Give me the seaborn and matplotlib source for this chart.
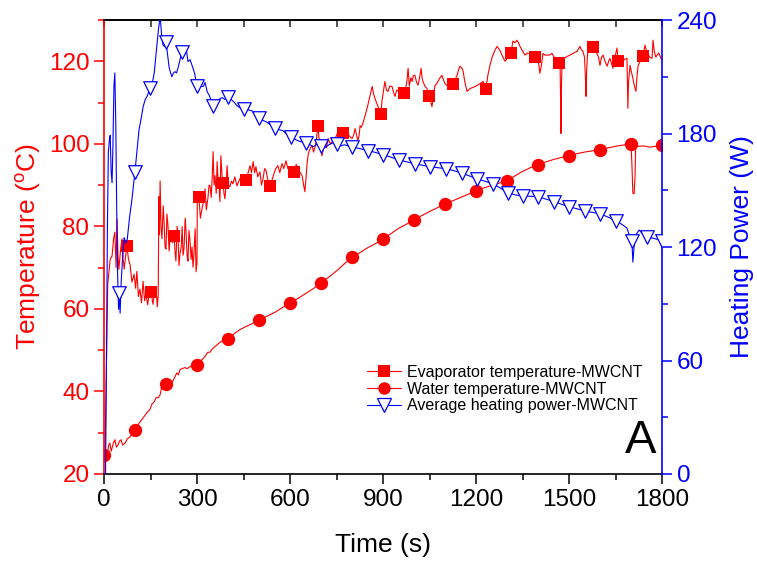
import matplotlib
matplotlib.use("Agg")
import matplotlib.pyplot as plt
import seaborn as sns
from matplotlib.lines import Line2D
from matplotlib.ticker import MultipleLocator

# ---------------- data ----------------
evap_time = [3, 12, 20, 26, 31, 35, 39, 42, 45, 48, 53, 58, 62, 65, 70, 74, 79, 84, 90, 97, 102, 106, 111, 116,
             121, 126, 131, 135, 141, 146, 152, 158, 163, 168, 172, 175, 177, 179, 181, 184, 187, 191, 194, 197,
             200, 203, 206, 210, 213, 218, 222, 226, 229, 232, 236, 239, 242, 245, 249, 252, 255, 258, 262, 265,
             268, 271, 274, 277, 281, 284, 287, 290, 294, 297, 300, 301, 306, 311, 316, 321, 326, 330, 335, 339,
             342, 346, 349, 352, 355, 358, 362, 365, 368, 371, 374, 377, 381, 384, 387, 390, 394, 397, 401, 406,
             411, 416, 422, 429, 435, 442, 450, 458, 465, 471, 476, 481, 486, 490, 496, 503, 508, 513, 518, 523,
             529, 535, 541, 548, 554, 561, 567, 574, 580, 587, 593, 600, 607, 613, 620, 626, 633, 639, 644, 648,
             652, 655, 658, 661, 666, 671, 676, 681, 685, 690, 694, 697, 700, 703, 708, 713, 718, 723, 730, 739,
             747, 755, 763, 771, 778, 784, 790, 800, 805, 810, 815, 819, 823, 826, 830, 835, 850, 865, 870, 874,
             879, 884, 889, 893, 897, 902, 906, 911, 916, 922, 929, 934, 939, 944, 948, 955, 962, 968, 972, 977,
             981, 985, 990, 994, 998, 1003, 1008, 1013, 1018, 1023, 1026, 1029, 1035, 1042, 1048, 1053, 1058,
             1063, 1068, 1073, 1077, 1084, 1090, 1095, 1100, 1108, 1116, 1121, 1126, 1132, 1139, 1144, 1148,
             1153, 1158, 1164, 1171, 1181, 1195, 1205, 1213, 1223, 1232, 1238, 1245, 1252, 1260, 1268, 1276,
             1284, 1290, 1294, 1303, 1313, 1319, 1326, 1332, 1337, 1342, 1350, 1358, 1366, 1374, 1382, 1390,
             1395, 1400, 1406, 1411, 1416, 1422, 1429, 1437, 1445, 1452, 1460, 1468, 1471, 1473, 1474, 1476,
             1478, 1481, 1490, 1503, 1515, 1526, 1535, 1540, 1545, 1550, 1553, 1555, 1557, 1561, 1568, 1577,
             1583, 1590, 1595, 1600, 1605, 1610, 1616, 1623, 1628, 1632, 1637, 1642, 1648, 1655, 1658, 1665,
             1674, 1680, 1687, 1689, 1690, 1692, 1697, 1701, 1706, 1711, 1716, 1719, 1723, 1730, 1739, 1742,
             1745, 1750, 1755, 1760, 1768, 1771, 1775, 1780, 1784, 1790, 1795, 1800]
evap_temp = [24, 66, 72, 72.8, 77, 78.6, 70, 81.8, 73, 69.6, 74, 77, 72, 69.6, 73, 75.2, 72, 70.8, 66.5, 68.4, 65,
             69.1, 63, 64.8, 61.5, 66.7, 62, 63.6, 61, 64, 64, 61.1, 64, 64.8, 60.5, 63.6, 87.2, 78, 91, 80, 77,
             85, 80.6, 75, 74.5, 83, 80.6, 74, 77, 79, 76, 77.7, 74, 71.6, 80, 77, 70.5, 73.3, 75, 79.9, 73, 74.5,
             82, 78.2, 73, 71.6, 79, 77, 72, 75, 70.1, 73, 79.4, 69, 71.3, 86.7, 87.2, 82, 84.2, 86, 89.1, 84,
             86.7, 90, 89.8, 87, 92, 98.1, 90, 92.3, 88, 95.7, 91, 89.8, 86, 97.1, 92, 90.6, 88, 86.7, 90, 94.7,
             90, 89.6, 91, 90.3, 92, 89.8, 91, 92, 90, 91.3, 93, 94.7, 93, 95.7, 93, 94.5, 92, 93.2, 90, 91.5, 94,
             93.5, 91, 89.8, 91, 92.7, 94, 94.7, 93, 95.2, 94, 95.9, 94, 94.5, 93, 93.2, 95, 94, 93, 92.3, 90,
             88.4, 92, 95.2, 97, 98.1, 99, 99.6, 98, 99.3, 101, 104.4, 101, 99.6, 98.5, 97.1, 99, 100.5, 99,
             101.3, 100, 100.8, 101.5, 103, 101.5, 102.7, 104, 103.7, 102, 101.3, 102, 103.7, 102, 100.8, 102,
             104.4, 104, 104.9, 109, 113.9, 112, 111, 110, 109, 108, 107.3, 110.5, 113, 115.1, 113, 112.7, 114,
             113.9, 112.5, 111.5, 113, 112.9, 112, 111.5, 112.2, 113, 115.1, 118.3, 114, 116, 115.1, 116.5,
             116.6, 115, 114.2, 116, 118.3, 116, 115.1, 114, 113.4, 111.7, 110.5, 109, 112, 114.2, 114.5,
             115.1, 116, 116.6, 115.5, 114.6, 114, 113.9, 114.5, 114.6, 115.5, 116.6, 118, 118.8, 118.5, 117.8,
             115, 112.7, 113.4, 113.8, 114.2, 114.6, 115.1, 113.2, 116.5, 119, 121, 122.5, 123.6, 122.8, 121.5,
             120.5, 120, 121, 122, 124.9, 124.5, 125.1, 124.5, 123.6, 122.5, 121.5, 122, 121.9, 121.5, 121, 121,
             120.7, 117.1, 119, 121.9, 121.5, 121.5, 121.5, 121.9, 121, 120.5, 119.5, 120.7, 110, 102.5, 115,
             120.5, 120.7, 121, 121.5, 122, 122.4, 123.6, 122.8, 122.4, 121, 116, 111.5, 118, 123.2, 123, 123.4,
             122.5, 121.9, 121, 119, 121, 121.5, 120, 118.8, 120, 120.7, 119.5, 118.3, 121, 123.2, 120, 120.5,
             120, 120.5, 120.7, 113, 108.6, 115, 119, 117.5, 115.9, 114, 112.7, 116, 119, 120, 121.2, 122.5,
             123.9, 122.5, 121.9, 121, 120.7, 125.1, 122.5, 121, 121.5, 122, 121, 120.2]
evap_mark_time = [74, 152, 226, 306, 384, 458, 535, 613, 690, 771, 893, 968, 1048, 1126, 1232, 1313, 1390,
                  1468, 1577, 1658, 1739]
evap_mark_temp = [75.2, 64, 77.7, 87.2, 90.6, 91.3, 89.8, 93.2, 104.4, 102.7, 107.3, 112.2, 111.7, 114.6, 113.2,
                  122, 121, 119.5, 123.4, 120, 121.2]

water_time = [0, 5, 10, 15, 19, 23, 26, 30, 35, 40, 45, 50, 55, 60, 68, 75, 84, 92, 100, 110, 120, 130, 140, 148,
              155, 162, 168, 175, 181, 186, 190, 195, 200, 206, 213, 218, 222, 229, 235, 240, 245, 252, 261, 268,
              277, 288, 300, 310, 320, 326, 335, 342, 348, 360, 374, 388, 400, 420, 439, 460, 480, 500, 525, 552,
              575, 600, 625, 648, 675, 700, 725, 750, 775, 800, 825, 850, 875, 900, 925, 950, 975, 1000, 1025,
              1050, 1075, 1100, 1125, 1150, 1175, 1200, 1225, 1250, 1275, 1300, 1325, 1350, 1375, 1400, 1425,
              1450, 1475, 1500, 1525, 1550, 1575, 1600, 1625, 1650, 1675, 1700, 1703, 1706, 1710, 1713, 1715,
              1725, 1740, 1760, 1780, 1800]
water_temp = [23.5, 25.5, 24.5, 27, 27.5, 25.5, 26.3, 27.5, 28.3, 26.5, 27, 28, 28.3, 27, 27.5, 28.5, 29, 30,
              30.7, 32, 33, 34, 35, 35.6, 37, 37.5, 38.5, 38.5, 39.2, 41, 40.9, 42.2, 41.7, 41, 40.9, 42, 42.5,
              43.6, 44.5, 44, 45.3, 45.5, 45.8, 45.5, 46, 46.2, 46.3, 47.3, 48, 48.5, 49.5, 49.5, 50.2, 51, 51.9,
              52.5, 52.8, 54, 55, 55.8, 56.5, 57.2, 58.2, 59.2, 60.3, 61.4, 62.5, 63.6, 64.9, 66.2, 67.7, 69.2,
              70.9, 72.5, 73.6, 74.8, 75.8, 76.9, 78.2, 79.5, 80.5, 81.6, 82.6, 83.6, 84.5, 85.4, 86.2, 87, 87.8,
              88.6, 89.3, 89.9, 90.5, 91, 92.2, 93.3, 94.2, 94.9, 95.6, 96.2, 96.7, 97.1, 97.6, 98, 98.3, 98.6,
              99, 99.4, 99.7, 100, 95, 88, 87.9, 92, 99.6, 99.4, 99.5, 99.2, 99.4, 99.6]
water_mark_time = [0, 100, 200, 300, 400, 500, 600, 700, 800, 900, 1000, 1100, 1200, 1300, 1400, 1500, 1600,
                   1700, 1800]
water_mark_temp = [24.5, 30.7, 41.7, 46.3, 52.8, 57.2, 61.4, 66.2, 72.5, 76.9, 81.6, 85.4, 88.6, 91.0, 94.9,
                   97.1, 98.6, 100.0, 99.6]

power_time = [0, 5, 8, 11, 14, 17, 20, 23, 26, 29, 32, 35, 38, 41, 44, 47, 50, 52, 55, 60, 65, 70, 75, 82, 90,
              100, 107, 113, 120, 126, 133, 140, 148, 155, 162, 168, 175, 181, 186, 190, 195, 200, 205, 210, 215,
              219, 224, 229, 234, 239, 245, 251, 258, 265, 271, 278, 284, 292, 300, 308, 316, 321, 326, 333, 340,
              351, 360, 370, 381, 390, 400, 410, 420, 429, 440, 451, 465, 477, 490, 500, 512, 525, 538, 552, 565,
              577, 590, 603, 615, 628, 640, 652, 665, 676, 688, 700, 712, 725, 738, 751, 765, 775, 788, 800, 825,
              852, 875, 900, 925, 952, 978, 1003, 1028, 1052, 1078, 1103, 1130, 1155, 1180, 1203, 1230, 1255,
              1280, 1303, 1328, 1352, 1376, 1400, 1426, 1452, 1476, 1500, 1526, 1552, 1576, 1600, 1626, 1652,
              1670, 1687, 1697, 1703, 1706, 1709, 1712, 1718, 1726, 1740, 1752, 1775, 1800]
power_val = [0, 0, 60, 130, 170, 176, 179, 160, 154, 175, 205, 212, 185, 140, 105, 87, 96, 85, 100, 115, 125, 122,
             124, 135, 145, 160, 172, 182, 188, 194, 198, 200, 204, 206, 212, 222, 234, 242, 232, 227, 226, 228.6,
             222, 215, 212, 210, 212, 212.7, 212, 214.8, 219, 223, 226, 225, 218, 219, 216, 212, 205, 207, 204.8,
             205, 207, 202, 200, 194.7, 196, 198, 199, 198, 199.5, 198, 196.5, 194.7, 193.5, 193, 192.5, 192,
             189.5, 188.4, 187, 186, 184.5, 183, 182, 181.5, 179.5, 178.3, 177, 176, 175.5, 175, 174, 173, 174.5,
             173.5, 172.5, 174, 175, 174.6, 173.5, 174, 173.5, 173, 172, 171, 170, 168.8, 167.5, 166, 165, 164,
             163.2, 162.4, 161.9, 161.4, 160.3, 159, 157.5, 156, 154.7, 153.4, 151, 148.7, 147.5, 147, 146.8,
             146.6, 145.3, 144, 142.6, 141.3, 140.2, 139, 138.3, 137.6, 135.8, 133.9, 132, 130, 125, 123, 112,
             118, 125, 127, 129, 126.5, 125.4, 124.5, 123.3]
power_mark_time = [48, 100, 148, 200, 251, 300, 351, 400, 451, 500, 552, 603, 652, 700, 751, 800, 852, 900, 952,
                   1003, 1052, 1103, 1155, 1203, 1255, 1303, 1352, 1400, 1452, 1500, 1552, 1600, 1652, 1703, 1752,
                   1800]
power_mark_val = [95.8, 159.8, 204, 228.6, 223, 205, 194.7, 199.5, 193, 188.4, 183, 178.3, 175, 173.5, 174.6, 173,
                  171, 168.8, 166, 164, 162.4, 161.4, 159, 156, 153.4, 148.7, 147, 146.6, 144, 141.3, 139, 137.6,
                  133.9, 123, 125.4, 123.3]

series_labels = ["Evaporator temperature-MWCNT", "Water temperature-MWCNT", "Average heating power-MWCNT"]

# ---------------- style ----------------
sns.set_style("ticks")
plt.rcParams["font.family"] = ["Liberation Sans", "DejaVu Sans"]
plt.rcParams["mathtext.default"] = "regular"
plt.rcParams["text.color"] = "black"

RED = "#ff0000"
BLUE = "#0000ff"

fig = plt.figure(figsize=(7.57, 5.61), dpi=100)
ax = fig.add_axes([104 / 757, 87 / 561, 558 / 757, 454 / 561])
ax2 = ax.twinx()

# temperature lines
sns.lineplot(x=evap_time, y=evap_temp, ax=ax, color=RED, lw=0.8, estimator=None, sort=False)
sns.lineplot(x=water_time, y=water_temp, ax=ax, color=RED, lw=0.8, estimator=None, sort=False)
sns.scatterplot(x=evap_mark_time, y=evap_mark_temp, ax=ax, marker="s", s=68, color=RED, edgecolor=RED,
                linewidth=0, zorder=4)
sns.scatterplot(x=water_mark_time, y=water_mark_temp, ax=ax, marker="o", s=92, color=RED, edgecolor=RED,
                linewidth=0, zorder=4)

# power line
sns.lineplot(x=power_time, y=power_val, ax=ax2, color=BLUE, lw=0.8, estimator=None, sort=False)
sns.scatterplot(x=power_mark_time, y=power_mark_val, ax=ax2, marker="v", s=95, color="white", edgecolor=BLUE,
                linewidth=0.9, zorder=4)

# limits
ax.set_xlim(0, 1800)
ax.set_ylim(20, 130)
ax2.set_ylim(0, 240)

# ticks
ax.xaxis.set_major_locator(MultipleLocator(300))
ax.xaxis.set_minor_locator(MultipleLocator(150))
ax.yaxis.set_major_locator(MultipleLocator(20))
ax.yaxis.set_minor_locator(MultipleLocator(10))
ax2.yaxis.set_major_locator(MultipleLocator(60))
ax2.yaxis.set_minor_locator(MultipleLocator(30))

TICK_FS = 17.5
ax.tick_params(axis="x", which="both", bottom=True, top=False, direction="out", colors="black",
               labelsize=TICK_FS, width=1.1)
ax.tick_params(axis="x", which="major", length=7)
ax.tick_params(axis="x", which="minor", length=4)
ax.tick_params(axis="y", which="both", left=True, right=False, direction="out", colors=RED,
               labelsize=TICK_FS, width=1.1)
ax.tick_params(axis="y", which="major", length=7)
ax.tick_params(axis="y", which="minor", length=4)
ax2.tick_params(axis="y", which="both", right=True, left=False, direction="out", colors=BLUE,
                labelsize=TICK_FS, width=1.1)
ax2.tick_params(axis="y", which="major", length=7)
ax2.tick_params(axis="y", which="minor", length=4)

secax = ax.secondary_xaxis("top")
secax.xaxis.set_major_locator(MultipleLocator(150))
secax.tick_params(axis="x", which="major", direction="in", length=5, width=1.1, labeltop=False, top=True)
secax.spines["top"].set_color("black")
secax.spines["top"].set_linewidth(1.2)

# spines
ax.spines["left"].set_color(RED)
ax.spines["bottom"].set_color("black")
ax.spines["top"].set_color("black")
ax.spines["right"].set_visible(False)
for s in ["left", "bottom", "top", "right"]:
    ax.spines[s].set_linewidth(1.2)
ax2.spines["left"].set_visible(False)
ax2.spines["top"].set_visible(False)
ax2.spines["bottom"].set_visible(False)
ax2.spines["right"].set_color(BLUE)
ax2.spines["right"].set_linewidth(1.2)

# labels
ax.set_xlabel("Time (s)", fontsize=19, color="black", labelpad=16)
ax.set_ylabel("Temperature ($^{o}$C)", fontsize=19, color=RED, labelpad=4)
ax2.set_ylabel("Heating Power (W)", fontsize=19, color=BLUE, labelpad=9)

# legend
handles = [
    Line2D([], [], color=RED, lw=0.8, marker="s", markersize=8, markeredgewidth=0),
    Line2D([], [], color=RED, lw=0.8, marker="o", markersize=9, markeredgewidth=0),
    Line2D([], [], color=BLUE, lw=0.8, marker="v", markersize=9.5, markerfacecolor="white",
           markeredgecolor=BLUE, markeredgewidth=0.9),
]
leg = ax2.legend(handles, series_labels, loc="upper left", bbox_to_anchor=(0.46, 0.255), frameon=False,
                 fontsize=11.5, handlelength=2.1, handletextpad=0.4, labelspacing=0.12, borderaxespad=0)
for t in leg.get_texts():
    t.set_color("black")

ax2.text(0.99, 0.025, "A", transform=ax2.transAxes, ha="right", va="bottom", fontsize=34, color="black")

fig.savefig("out.png", dpi=100)
